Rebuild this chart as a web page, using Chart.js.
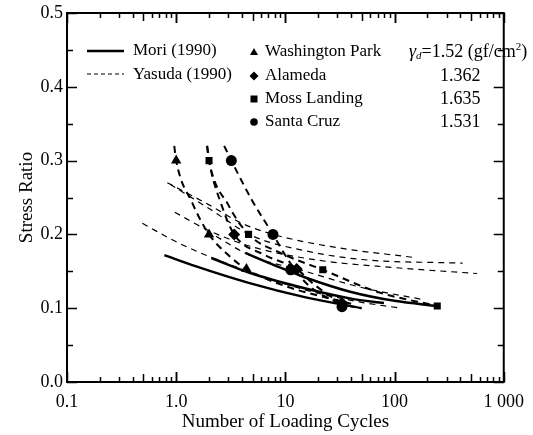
<!DOCTYPE html>
<html>
<head>
<meta charset="utf-8">
<script src="https://cdn.jsdelivr.net/npm/chart.js@4.4.1/dist/chart.umd.min.js"></script>
<style>
  html, body { margin: 0; background: #fff; }
</style>
</head>
<body>
<canvas id="cycles" width="533" height="435"></canvas>
<script>
// tick labels
const xTickValues = [0.1, 1, 10, 100, 1000];
const xTickLabels = ['0.1', '1.0', '10', '100', '1 000'];
const yTickLabels = ['0.0', '0.1', '0.2', '0.3', '0.4', '0.5'];

// test results [cycles, stress ratio]
const washingtonPark = [[1.0, 0.30], [2.0, 0.20], [4.4, 0.153]];
const alameda = [[3.4, 0.20], [12.7, 0.153], [33, 0.107]];
const mossLanding = [[2.0, 0.30], [4.6, 0.20], [22, 0.152], [246, 0.103]];
const santaCruz = [[3.2, 0.30], [7.7, 0.20], [11.2, 0.152], [33, 0.102]];

// fitted curves through each soil's results
const washingtonParkFit = [[0.96, 0.32], [1.0, 0.30], [1.4, 0.243], [2.0, 0.20], [3.0, 0.172], [4.4, 0.153], [10, 0.13], [40, 0.106]];
const alamedaFit = [[1.92, 0.32], [2.0, 0.30], [2.6, 0.24], [3.4, 0.20], [6.5, 0.172], [12.7, 0.153], [18, 0.133], [33, 0.107], [45, 0.10]];
const mossLandingFit = [[1.92, 0.32], [2.0, 0.30], [3.0, 0.24], [4.6, 0.20], [9, 0.175], [22, 0.152], [70, 0.122], [246, 0.103]];
const santaCruzFit = [[2.75, 0.32], [3.2, 0.30], [5.0, 0.245], [7.7, 0.20], [11, 0.162], [16, 0.132], [33, 0.104]];

// Mori (1990)
const mori1 = [[0.78, 0.172], [1.5, 0.157], [4.7, 0.134], [15, 0.115], [50, 0.10]];
const mori2 = [[2.1, 0.168], [4.7, 0.148], [15, 0.127], [40, 0.113], [80, 0.107]];
const mori3 = [[4.3, 0.175], [8, 0.158], [15, 0.142], [40, 0.122], [100, 0.11], [246, 0.103]];

// Yasuda (1990)
const yasuda1 = [[0.49, 0.215], [1, 0.19], [2, 0.17], [5, 0.148], [15, 0.125], [50, 0.108], [116, 0.10]];
const yasuda2 = [[0.88, 0.268], [2, 0.235], [5, 0.198], [15, 0.178], [50, 0.166], [420, 0.161]];
const yasuda3 = [[0.83, 0.27], [2, 0.24], [4, 0.215], [7.7, 0.20], [30, 0.182], [146, 0.169]];
const yasuda4 = [[0.97, 0.23], [2, 0.205], [5, 0.183], [20, 0.165], [100, 0.155], [570, 0.147]];
const yasuda5 = [[1.9, 0.205], [5, 0.17], [13.6, 0.152], [50, 0.128], [177, 0.112]];

const FONT = "'Liberation Serif', 'DejaVu Serif', serif";
const toXY = pts => pts.map(p => ({ x: p[0], y: p[1] }));

const markers = (pts, style, r) => ({
  data: toXY(pts), showLine: false, pointStyle: style, pointRadius: r,
  backgroundColor: '#000', borderColor: '#000', borderWidth: 0, order: 0
});
const curve = (pts, width, dash) => ({
  data: toXY(pts), showLine: true, pointRadius: 0, borderColor: '#000',
  borderWidth: width, borderDash: dash, cubicInterpolationMode: 'monotone', order: 1
});

// frame and inward ticks on all four sides
const frameTicks = {
  id: 'frameTicks',
  afterDraw(chart) {
    const { ctx, chartArea: a, scales: { x, y } } = chart;
    ctx.save();
    ctx.strokeStyle = '#000';
    ctx.lineWidth = 1.5;
    for (let i = 0; i <= 10; i++) {
      const py = Math.round(y.getPixelForValue(i * 0.05)) + 0.5;
      const len = i % 2 === 0 ? 10 : 6;
      ctx.beginPath();
      ctx.moveTo(a.left, py); ctx.lineTo(a.left + len, py);
      ctx.moveTo(a.right, py); ctx.lineTo(a.right - len, py);
      ctx.stroke();
    }
    for (let d = 0.1; d < 1000; d *= 10) {
      for (let k = 1; k <= 10; k++) {
        const px = Math.round(x.getPixelForValue(d * k)) + 0.5;
        const len = (k === 1 || k === 10) ? 10 : (k === 5 ? 8 : 5);
        ctx.beginPath();
        ctx.moveTo(px, a.bottom); ctx.lineTo(px, a.bottom - len);
        ctx.moveTo(px, a.top); ctx.lineTo(px, a.top + len);
        ctx.stroke();
      }
    }
    ctx.lineWidth = 2;
    ctx.strokeRect(a.left, a.top, a.right - a.left, a.bottom - a.top);
    ctx.restore();
  }
};

// legend block in the upper left of the plot
const legendBlock = {
  id: 'legendBlock',
  afterDraw(chart) {
    const ctx = chart.ctx;
    ctx.save();
    ctx.fillStyle = '#000';
    ctx.strokeStyle = '#000';
    ctx.textBaseline = 'middle';
    ctx.font = '17px ' + FONT;

    ctx.lineWidth = 2.5;
    ctx.beginPath(); ctx.moveTo(87, 51); ctx.lineTo(124, 51); ctx.stroke();
    ctx.lineWidth = 1.2;
    ctx.setLineDash([4, 3]);
    ctx.beginPath(); ctx.moveTo(87, 74); ctx.lineTo(124, 74); ctx.stroke();
    ctx.setLineDash([]);
    ctx.fillText('Mori (1990)', 133, 51);
    ctx.fillText('Yasuda (1990)', 133, 75);

    const rows = [52, 76, 99, 122];
    const mx = 254;
    ctx.beginPath();
    ctx.moveTo(mx, rows[0] - 4); ctx.lineTo(mx + 4, rows[0] + 3); ctx.lineTo(mx - 4, rows[0] + 3);
    ctx.closePath(); ctx.fill();
    ctx.beginPath();
    ctx.moveTo(mx, rows[1] - 4.5); ctx.lineTo(mx + 4.5, rows[1]); ctx.lineTo(mx, rows[1] + 4.5); ctx.lineTo(mx - 4.5, rows[1]);
    ctx.closePath(); ctx.fill();
    ctx.fillRect(mx - 3.5, rows[2] - 3.5, 7, 7);
    ctx.beginPath(); ctx.arc(mx, rows[3], 3.8, 0, Math.PI * 2); ctx.fill();

    const names = ['Washington Park', 'Alameda', 'Moss Landing', 'Santa Cruz'];
    names.forEach((n, i) => ctx.fillText(n, 265, rows[i]));

    // dry density column
    ctx.font = 'italic 18px ' + FONT;
    ctx.fillText('γ', 409, rows[0]);
    let cx = 409 + ctx.measureText('γ').width;
    ctx.font = 'italic 11px ' + FONT;
    ctx.fillText('d', cx, rows[0] + 4);
    cx += ctx.measureText('d').width;
    ctx.font = '18px ' + FONT;
    ctx.fillText('=1.52 (gf/cm', cx, rows[0]);
    cx += ctx.measureText('=1.52 (gf/cm').width;
    ctx.font = '11px ' + FONT;
    ctx.fillText('2', cx, rows[0] - 5);
    cx += ctx.measureText('2').width;
    ctx.font = '18px ' + FONT;
    ctx.fillText(')', cx, rows[0]);
    ['1.362', '1.635', '1.531'].forEach((t, i) => ctx.fillText(t, 440, rows[i + 1]));
    ctx.restore();
  }
};

new Chart(document.getElementById('cycles'), {
  type: 'scatter',
  data: {
    datasets: [
      curve(washingtonParkFit, 2, [7, 5]),
      curve(alamedaFit, 2, [7, 5]),
      curve(mossLandingFit, 2, [7, 5]),
      curve(santaCruzFit, 2, [7, 5]),
      curve(mori1, 2.5, []),
      curve(mori2, 2.5, []),
      curve(mori3, 2.5, []),
      curve(yasuda1, 1.2, [6, 5]),
      curve(yasuda2, 1.2, [6, 5]),
      curve(yasuda3, 1.2, [6, 5]),
      curve(yasuda4, 1.2, [6, 5]),
      curve(yasuda5, 1.2, [6, 5]),
      markers(washingtonPark, 'triangle', 6),
      markers(alameda, 'rectRot', 6),
      markers(mossLanding, 'rect', 5),
      markers(santaCruz, 'circle', 5.5)
    ]
  },
  options: {
    responsive: false,
    animation: false,
    layout: { padding: { top: 13, right: 28, left: 0, bottom: 0 } },
    plugins: { legend: { display: false }, tooltip: { enabled: false } },
    scales: {
      x: {
        type: 'logarithmic',
        min: 0.1,
        max: 1000,
        grid: { display: false, drawTicks: false },
        border: { display: false },
        afterBuildTicks: s => { s.ticks = xTickValues.map(v => ({ value: v })); },
        afterFit: s => { s.height = 53; },
        ticks: {
          color: '#000',
          font: { family: FONT, size: 18 },
          padding: 9,
          maxRotation: 0,
          autoSkip: false,
          callback: (v, i) => xTickLabels[i]
        },
        title: {
          display: true,
          text: 'Number of Loading Cycles',
          color: '#000',
          font: { family: FONT, size: 19 },
          padding: { top: 0, bottom: 2 }
        }
      },
      y: {
        min: 0,
        max: 0.5,
        grid: { display: false, drawTicks: false },
        border: { display: false },
        afterFit: s => { s.width = 67; s.paddingTop = 0; s.paddingBottom = 0; },
        ticks: {
          stepSize: 0.1,
          color: '#000',
          font: { family: FONT, size: 18 },
          padding: 4,
          callback: (v, i) => yTickLabels[i]
        },
        title: {
          display: true,
          text: 'Stress Ratio',
          color: '#000',
          font: { family: FONT, size: 19 },
          padding: { top: 16, bottom: 0 }
        }
      }
    }
  },
  plugins: [frameTicks, legendBlock]
});
</script>
</body>
</html>
